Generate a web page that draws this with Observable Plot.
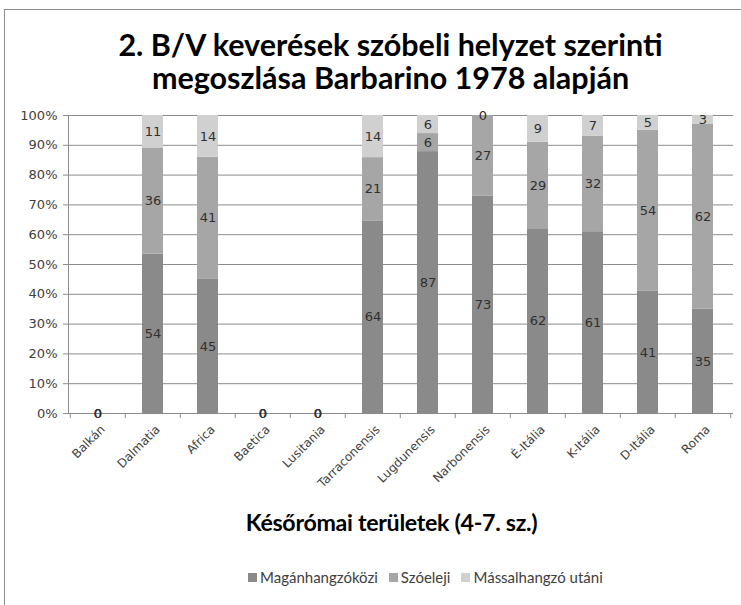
<!DOCTYPE html>
<html><head><meta charset="utf-8">
<script src="https://cdn.jsdelivr.net/npm/d3@7"></script>
<script src="https://cdn.jsdelivr.net/npm/@observablehq/plot@0.6"></script>
<style>
body{margin:0;background:#fff;}
#wrap{position:relative;width:741px;height:605px;overflow:hidden;background:#fff;}
#frame{position:absolute;left:4px;top:9px;width:780px;height:640px;border:1px solid #8c8c8c;box-sizing:border-box;}
#chart{position:absolute;left:0;top:0;}
.t{position:absolute;left:0;width:741px;text-align:center;font-family:Lato,"Open Sans",sans-serif;font-weight:bold;color:#000;white-space:nowrap;}
#title{left:20px;top:28px;font-size:30.5px;line-height:33px;}
#xtitle{left:21px;top:506px;font-size:23.2px;line-height:32px;letter-spacing:-0.3px;}
#legend{position:absolute;top:568px;left:248px;display:flex;font-family:Lato,"Open Sans",sans-serif;font-size:15px;color:#404040;white-space:nowrap;}
#legend span{display:inline-flex;align-items:center;margin-right:11px;}
#legend i{display:inline-block;width:9px;height:9px;margin-right:3px;}
</style></head>
<body>
<div id="wrap">
  <div id="frame"></div>
  <div id="chart"></div>
  <div class="t" id="title">2. B/V keverések szóbeli helyzet szerinti<br>megoszlása Barbarino 1978 alapján</div>
  <div class="t" id="xtitle">Későrómai területek (4-7. sz.)</div>
  <div id="legend"></div>
</div>
<script>
const categories = ["Balkán","Dalmatia","Africa","Baetica","Lusitania","Tarraconensis","Lugdunensis","Narbonensis","É-Itália","K-Itália","D-Itália","Roma"];
const maganhangzokozi = [0,54,45,0,0,64,87,73,62,61,41,35];
const szoeleji = [0,36,41,0,0,21,6,27,29,32,54,62];
const massalhangzoUtani = [0,11,14,0,0,14,6,0,9,7,5,3];
const seriesNames = ["Magánhangzóközi","Szóeleji","Mássalhangzó utáni"];
const seriesColors = ["#8a8a8a","#a6a6a6","#d0d0d0"];
const yTicks = [0,10,20,30,40,50,60,70,80,90,100];

const W = 741, H = 605, ML = 68, MR = 8, MT = 115, MB = 192;
const step = (W - ML - MR) / categories.length;

const seriesValues = [maganhangzokozi, szoeleji, massalhangzoUtani];
const rows = [];
categories.forEach((c, i) => {
  const total = d3.sum(seriesValues, s => s[i]);
  seriesValues.forEach((s, j) => {
    rows.push({cat: c, series: seriesNames[j], value: s[i], pct: total ? s[i] / total * 100 : 0});
  });
});

const chart = Plot.plot({
  width: W, height: H,
  marginLeft: ML, marginRight: MR, marginTop: MT, marginBottom: MB,
  style: {fontFamily: "DejaVu Sans", fontSize: "12px", color: "#404040", background: "transparent"},
  x: {domain: categories, paddingInner: 0.61, paddingOuter: 0.305, label: null},
  y: {domain: [0, 100], label: null},
  color: {domain: seriesNames, range: seriesColors},
  marks: [
    Plot.ruleY(yTicks, {stroke: "#8c8c8c", strokeWidth: 1}),
    Plot.barY(rows, Plot.stackY({x: "cat", y: "pct", fill: "series", order: seriesNames})),
    Plot.ruleX(categories, {x: d => d, y1: 0, y2: 0, insetBottom: -5, dx: -step / 2, stroke: "#8c8c8c"}),
    Plot.ruleX(categories.slice(-1), {x: d => d, y1: 0, y2: 0, insetBottom: -5, dx: step / 2, stroke: "#8c8c8c"}),
    Plot.frame({anchor: "left", stroke: "#8c8c8c"}),
    Plot.axisY({ticks: yTicks, tickFormat: d => d + "%", tickSize: 5, tickPadding: 6, stroke: "#8c8c8c", fill: "#404040", fontSize: 13}),
    Plot.axisX({tickSize: 0, tickRotate: -45, tickPadding: 12, dx: 5, dy: 2, fill: "#404040", fontSize: 12, fontFamily: "DejaVu Sans"}),
    Plot.text(rows, Plot.stackY({x: "cat", y: "pct", z: "series", order: seriesNames, text: "value", fill: "#303030", fontSize: 13}))
  ]
});
document.getElementById("chart").appendChild(chart);

const legend = document.getElementById("legend");
seriesNames.forEach((n, i) => {
  const s = document.createElement("span");
  s.innerHTML = `<i style="background:${seriesColors[i]}"></i>${n}`;
  legend.appendChild(s);
});
</script>
</body></html>
